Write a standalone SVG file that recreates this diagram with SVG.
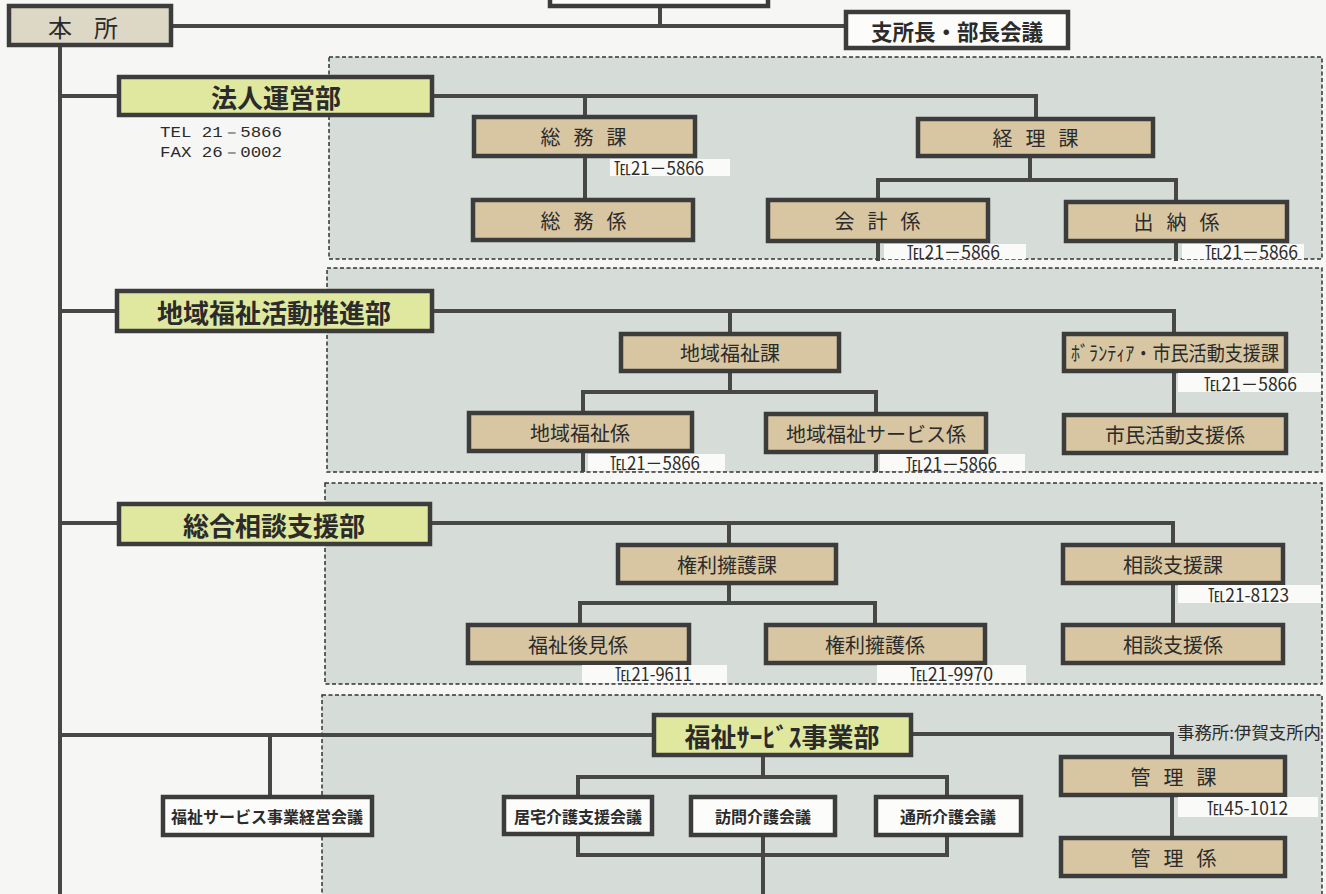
<svg xmlns="http://www.w3.org/2000/svg" width="1326" height="894" viewBox="0 0 1326 894">
<style>
.sec{fill:#d6ddd8;stroke:#333;stroke-width:1.5;stroke-dasharray:4 2.5}
.ln{fill:none;stroke:#474747;stroke-width:4}
.bx{stroke:#3c3c3c;stroke-width:4.5}
.dept{fill:#e0e89f}
.tan{fill:#d8c6a2}
.wht{fill:#fcfcfa}
.hq{fill:#ddd8c6}
.telbg{fill:#fafaf8}
text{font-family:"Noto Sans CJK JP","Noto Sans",sans-serif;fill:#2b2b2b;text-anchor:middle;dominant-baseline:central}
.t20{font-size:20px}
.t26{font-size:26px;font-weight:bold}
.t16{font-size:16px;font-weight:bold}
.t21{font-size:22px;font-weight:bold}
.tel{font-size:18px;text-anchor:start}
.mono{font-family:"Liberation Mono",monospace;font-size:14px;text-anchor:start}
</style>
<rect x="0" y="0" width="1326" height="894" fill="#f6f6f4"/>
<g id="sections">
<rect class="sec" x="329" y="57" width="993" height="202"/>
<rect class="sec" x="327" y="268" width="995" height="204"/>
<rect class="sec" x="325" y="483" width="997" height="201"/>
<rect class="sec" x="322" y="695" width="1000" height="220"/>
</g>
<g id="connectors">
<path class="ln" d="M173 26H846M660 6V26"/>
<path class="ln" d="M60 45V894"/>
<path class="ln" d="M60 96H119M432 96H1036V119M585 96V117M585 156V200M1030 156V180M878 200V180H1176V202M878 243V261M1176 243V261"/>
<path class="ln" d="M60 311H117M432 311H1174V334M730 311V334M730 371V392M583 413V392H876V414M1174 371V415M583 451V472M876 452V472"/>
<path class="ln" d="M60 523H119M430 523H1173V545M729 523V545M729 583V603M580 625V603H875V625M1173 583V625"/>
<path class="ln" d="M60 735H654M270 735V797M911 734H1172V757M1172 795V838M763 755V777M578 797V777H947V797M578 834V855H947V835M763 835V894"/>
</g>
<g id="n-top"><rect class="bx wht" x="550" y="-20" width="218" height="26"/></g>
<g id="n-honsho"><rect class="bx hq" x="9" y="6" width="162" height="39"/><text style="font-size:24px" x="94" y="26" letter-spacing="22">本所</text></g>
<g id="n-kaigi"><rect class="bx wht" x="846" y="12" width="222" height="36"/><text class="t21" x="957" y="30" textLength="172" lengthAdjust="spacingAndGlyphs">支所長・部長会議</text></g>

<g id="n-hojin"><rect class="bx dept" x="119" y="77" width="313" height="38"/><text class="t26" x="276" y="96">法人運営部</text></g>
<text class="mono" x="160" y="133" textLength="122" lengthAdjust="spacingAndGlyphs">TEL 21－5866</text>
<text class="mono" x="160" y="153" textLength="122" lengthAdjust="spacingAndGlyphs">FAX 26－0002</text>
<g id="n-somuka"><rect class="bx tan" x="474" y="117" width="221" height="39"/><text class="t20" x="590" y="136" letter-spacing="13">総務課</text></g>
<g id="n-keirika"><rect class="bx tan" x="918" y="119" width="235" height="37"/><text class="t20" x="1042" y="137" letter-spacing="13">経理課</text></g>
<g id="n-somukakari"><rect class="bx tan" x="473" y="200" width="220" height="40"/><text class="t20" x="590" y="220" letter-spacing="13">総務係</text></g>
<g id="n-kaikei"><rect class="bx tan" x="768" y="200" width="220" height="41"/><text class="t20" x="884" y="220" letter-spacing="13">会計係</text></g>
<g id="n-suito"><rect class="bx tan" x="1066" y="202" width="221" height="39"/><text class="t20" x="1183" y="221" letter-spacing="13">出納係</text></g>

<g id="n-chiiki"><rect class="bx dept" x="117" y="291" width="315" height="40"/><text class="t26" x="274" y="311">地域福祉活動推進部</text></g>
<g id="n-chiikika"><rect class="bx tan" x="621" y="334" width="218" height="37"/><text class="t20" x="730" y="352">地域福祉課</text></g>
<g id="n-volka"><rect class="bx tan" x="1064" y="334" width="222" height="37"/><text class="t20" x="1175" y="352" textLength="208" lengthAdjust="spacingAndGlyphs">ﾎﾞﾗﾝﾃｨｱ・市民活動支援課</text></g>
<g id="n-chiikikakari"><rect class="bx tan" x="469" y="413" width="223" height="38"/><text class="t20" x="580" y="432">地域福祉係</text></g>
<g id="n-service"><rect class="bx tan" x="766" y="414" width="220" height="38"/><text class="t20" x="876" y="433">地域福祉サービス係</text></g>
<g id="n-shimin"><rect class="bx tan" x="1064" y="415" width="222" height="38"/><text class="t20" x="1175" y="434">市民活動支援係</text></g>

<g id="n-sogo"><rect class="bx dept" x="119" y="504" width="311" height="40"/><text class="t26" x="274" y="524">総合相談支援部</text></g>
<g id="n-kenrika"><rect class="bx tan" x="618" y="545" width="218" height="38"/><text class="t20" x="727" y="564">権利擁護課</text></g>
<g id="n-sodanka"><rect class="bx tan" x="1063" y="545" width="220" height="38"/><text class="t20" x="1173" y="564">相談支援課</text></g>
<g id="n-koken"><rect class="bx tan" x="468" y="625" width="221" height="38"/><text class="t20" x="578" y="644">福祉後見係</text></g>
<g id="n-kenrikakari"><rect class="bx tan" x="766" y="625" width="219" height="38"/><text class="t20" x="875" y="644">権利擁護係</text></g>
<g id="n-sodankakari"><rect class="bx tan" x="1063" y="625" width="220" height="38"/><text class="t20" x="1173" y="644">相談支援係</text></g>

<g id="n-fukushi"><rect class="bx dept" x="654" y="715" width="257" height="40"/><text class="t26" x="782" y="735">福祉ｻｰﾋﾞｽ事業部</text></g>
<g id="n-keiei"><rect class="bx wht" x="163" y="797" width="209" height="38"/><text class="t16" x="267" y="816">福祉サービス事業経営会議</text></g>
<g id="n-kyotaku"><rect class="bx wht" x="504" y="797" width="148" height="37"/><text class="t16" x="578" y="816">居宅介護支援会議</text></g>
<g id="n-homon"><rect class="bx wht" x="691" y="797" width="144" height="38"/><text class="t16" x="763" y="816">訪問介護会議</text></g>
<g id="n-tsusho"><rect class="bx wht" x="876" y="797" width="145" height="38"/><text class="t16" x="948" y="816">通所介護会議</text></g>
<g id="n-kanrika"><rect class="bx tan" x="1061" y="757" width="224" height="38"/><text class="t20" x="1180" y="776" letter-spacing="13">管理課</text></g>
<g id="n-kanrikakari"><rect class="bx tan" x="1061" y="838" width="224" height="38"/><text class="t20" x="1180" y="857" letter-spacing="13">管理係</text></g>

<g id="tel-labels">
<rect class="telbg" x="610" y="159" width="120" height="17"/>
<text class="tel" x="614" y="167" textLength="90" lengthAdjust="spacingAndGlyphs">℡21－5866</text>
<rect class="telbg" x="884" y="244" width="142" height="15"/>
<text class="tel" x="907" y="251" textLength="93" lengthAdjust="spacingAndGlyphs">℡21－5866</text>
<rect class="telbg" x="1182" y="244" width="122" height="15"/>
<text class="tel" x="1205" y="251" textLength="93" lengthAdjust="spacingAndGlyphs">℡21－5866</text>
<rect class="telbg" x="1178" y="373" width="143" height="19"/>
<text class="tel" x="1204" y="383" textLength="93" lengthAdjust="spacingAndGlyphs">℡21－5866</text>
<rect class="telbg" x="588" y="454" width="137" height="17"/>
<text class="tel" x="610" y="462" textLength="90" lengthAdjust="spacingAndGlyphs">℡21－5866</text>
<rect class="telbg" x="880" y="454" width="145" height="17"/>
<text class="tel" x="906" y="463" textLength="91" lengthAdjust="spacingAndGlyphs">℡21－5866</text>
<rect class="telbg" x="1178" y="585" width="143" height="18"/>
<text class="tel" x="1208" y="594" textLength="81" lengthAdjust="spacingAndGlyphs">℡21-8123</text>
<rect class="telbg" x="582" y="665" width="145" height="18"/>
<text class="tel" x="615" y="673" textLength="77" lengthAdjust="spacingAndGlyphs">℡21-9611</text>
<rect class="telbg" x="877" y="665" width="149" height="18"/>
<text class="tel" x="910" y="673" textLength="83" lengthAdjust="spacingAndGlyphs">℡21-9970</text>
<rect class="telbg" x="1178" y="797" width="140" height="20"/>
<text class="tel" x="1207" y="807" textLength="81" lengthAdjust="spacingAndGlyphs">℡45-1012</text>
<text class="tel" x="1177" y="731" style="font-size:17px" textLength="144" lengthAdjust="spacingAndGlyphs">事務所:伊賀支所内</text>
</g>
</svg>
